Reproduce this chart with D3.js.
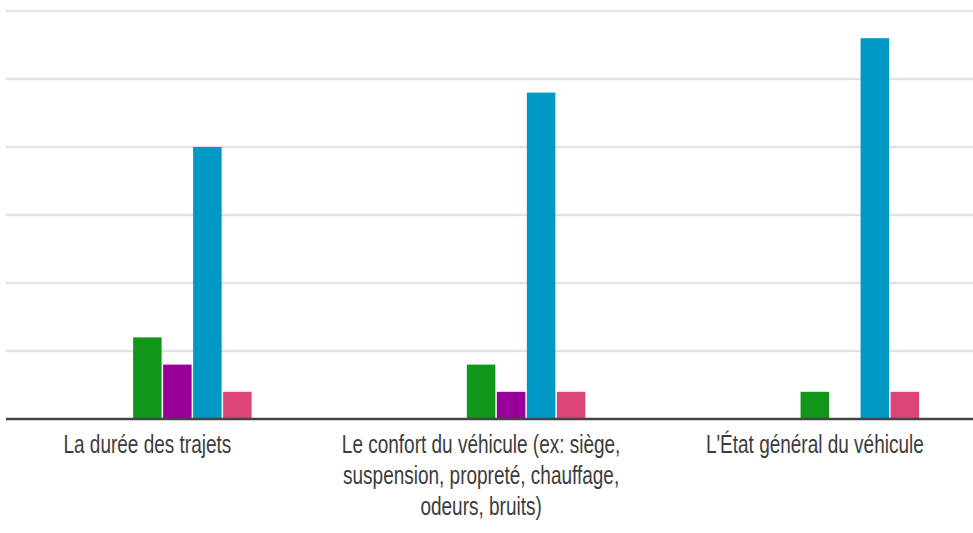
<!DOCTYPE html>
<html>
<head>
<meta charset="utf-8">
<script src="https://cdn.jsdelivr.net/npm/d3@7"></script>
<style>
html,body{margin:0;padding:0;background:#fff;}
svg{display:block;}
</style>
</head>
<body>
<svg id="chart" width="973" height="533"></svg>
<script>
// ---- data ----
const categories = [
  "La durée des trajets",
  "Le confort du véhicule (ex: siège, suspension, propreté, chauffage, odeurs, bruits)",
  "L'État général du véhicule"
];
const categoryLines = [
  ["La durée des trajets"],
  ["Le confort du véhicule (ex: siège,", "suspension, propreté, chauffage,", "odeurs, bruits)"],
  ["L'État général du véhicule"]
];
const seriesNames = ["Série 1", "Série 2", "Série 3", "Série 4", "Série 5", "Série 6", "Série 7"];
const seriesColors = ["#3366cc", "#dc3912", "#ff9900", "#109618", "#990099", "#0099c6", "#dd4477"];
const serie1 = [0, 0, 0];
const serie2 = [0, 0, 0];
const serie3 = [0, 0, 0];
const serie4 = [3, 2, 1];
const serie5 = [2, 1, 0];
const serie6 = [10, 12, 14];
const serie7 = [1, 1, 1];
const seriesValues = [serie1, serie2, serie3, serie4, serie5, serie6, serie7];
const yTicks = [0, 2.5, 5, 7.5, 10, 12.5, 15];

// ---- layout ----
const svg = d3.select("#chart");
const W = 973;
const plotLeft = 6, plotRight = 973;
const y = d3.scaleLinear().domain([0, 15]).range([419, 11]);
const x0 = d3.scaleBand().domain(categories).range([-19.5, 981.7]).padding(0);
const groupW = 210;
const x1 = d3.scaleBand().domain(seriesNames)
  .range([x0.bandwidth() / 2 - groupW / 2, x0.bandwidth() / 2 + groupW / 2])
  .paddingInner(0.05).paddingOuter(0.025);

// gridlines
svg.append("g").selectAll("line")
  .data(yTicks.filter(t => t > 0))
  .join("line")
  .attr("x1", plotLeft).attr("x2", plotRight)
  .attr("y1", d => y(d)).attr("y2", d => y(d))
  .attr("stroke", "#e3e3e3").attr("stroke-width", 2.5);

// bars
const data = [];
categories.forEach((c, ci) => {
  seriesNames.forEach((s, si) => {
    data.push({cat: c, ser: s, value: seriesValues[si][ci], color: seriesColors[si]});
  });
});
svg.append("g").selectAll("rect")
  .data(data.filter(d => d.value > 0))
  .join("rect")
  .attr("x", d => x0(d.cat) + x1(d.ser))
  .attr("width", x1.bandwidth())
  .attr("y", d => y(d.value))
  .attr("height", d => y(0) - y(d.value))
  .attr("fill", d => d.color);

// baseline
svg.append("line")
  .attr("x1", plotLeft).attr("x2", plotRight)
  .attr("y1", y(0)).attr("y2", y(0))
  .attr("stroke", "#444").attr("stroke-width", 2.5);

// category labels
const labels = svg.append("g").selectAll("text")
  .data(categories)
  .join("text")
  .attr("transform", d => `translate(${x0(d) + x0.bandwidth() / 2},453) scale(1,1.37)`)
  .attr("text-anchor", "middle")
  .attr("font-family", "'Liberation Sans', Arial, sans-serif")
  .attr("font-size", 19)
  .attr("fill", "#3c3c3c");
labels.each(function(d, i) {
  d3.select(this).selectAll("tspan")
    .data(categoryLines[i])
    .join("tspan")
    .attr("x", 0)
    .attr("dy", (t, j) => j === 0 ? 0 : "1.19em")
    .text(t => t);
});
</script>
</body>
</html>
